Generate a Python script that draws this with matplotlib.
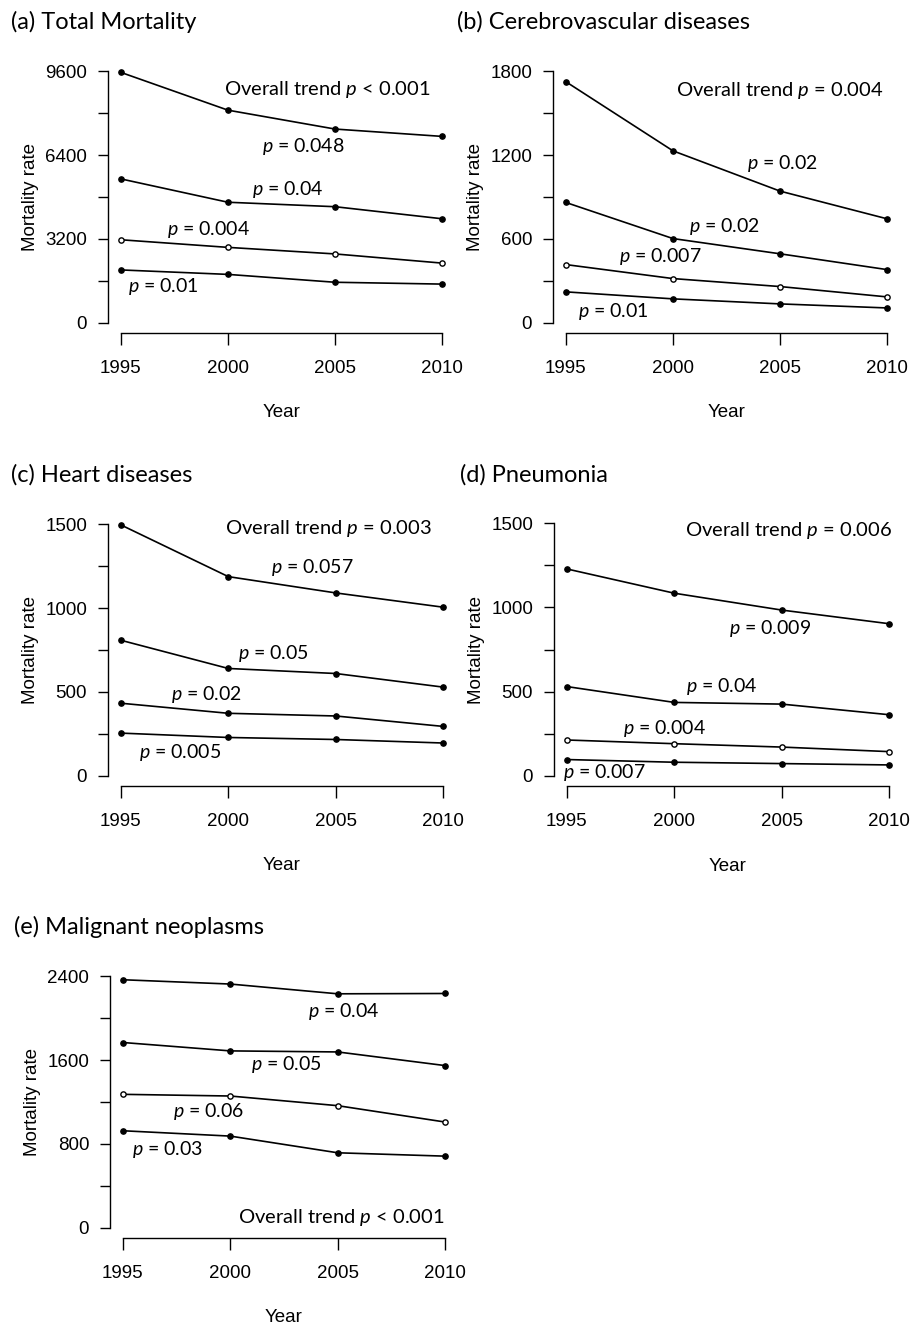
import matplotlib
matplotlib.use('Agg')
import matplotlib.pyplot as plt

plt.rcParams['font.family'] = ['Liberation Sans', 'DejaVu Sans']
plt.rcParams['mathtext.fontset'] = 'custom'
plt.rcParams['mathtext.it'] = 'Lato:italic'
plt.rcParams['mathtext.rm'] = 'Lato'

years = [1995, 2000, 2005, 2010]

# mortality rates, four series per panel (top to bottom)
total_mort = [[9550, 8110, 7390, 7110],
              [5490, 4600, 4430, 3970],
              [3170, 2880, 2630, 2280],
              [2020, 1850, 1550, 1480]]
cerebro = [[1724, 1230, 942, 744],
           [861, 603, 494, 381],
           [417, 317, 260, 186],
           [222, 172, 136, 107]]
heart = [[1495, 1187, 1090, 1005],
         [808, 640, 610, 529],
         [433, 373, 357, 295],
         [255, 229, 217, 196]]
pneumonia = [[1228, 1084, 984, 903],
             [530, 436, 426, 363],
             [213, 191, 171, 144],
             [97, 81, 73, 65]]
neoplasm = [[2365, 2324, 2231, 2234],
            [1767, 1687, 1677, 1547],
            [1273, 1257, 1165, 1009],
            [926, 875, 716, 684]]

titles = ['(a) Total Mortality', '(b) Cerebrovascular diseases',
          '(c) Heart diseases', '(d) Pneumonia', '(e) Malignant neoplasms']
ymax = [9600, 1800, 1500, 1500, 2400]
overall = ['< 0.001', '= 0.004', '= 0.003', '= 0.006', '< 0.001']
pvals = [['0.048', '0.04', '0.004', '0.01'],
         ['0.02', '0.02', '0.007', '0.01'],
         ['0.057', '0.05', '0.02', '0.005'],
         ['0.009', '0.04', '0.004', '0.007'],
         ['0.04', '0.05', '0.06', '0.03']]
# label anchor points (year, rate) for the p-values, then the overall trend
pval_pos = [[(2003.5, 6720), (2002.8, 5100), (1999.1, 3550), (1997.0, 1395), (2004.65, 8900)],
            [(2005.1, 1140), (2002.4, 687), (1999.4, 472), (1997.2, 79), (2005.0, 1664)],
            [(2003.9, 1241), (2002.1, 732), (1999.0, 487), (1997.75, 140), (2004.66, 1476)],
            [(2004.45, 873), (2002.2, 528), (1999.55, 282), (1996.76, 20), (2005.34, 1459)],
            [(2005.3, 2066), (2002.6, 1556), (1999.0, 1105), (1997.1, 745), (2005.18, 102)]]
hollow_third = [True, True, False, True, True]

datasets = [total_mort, cerebro, heart, pneumonia, neoplasm]

W, H = 922, 1328
fig = plt.figure(figsize=(W / 100, H / 100), dpi=100)

# axes boxes in pixels: left, top, right, bottom
boxes = [(108, 61, 455, 333), (553, 61, 900, 333),
         (108, 514, 456, 786), (554, 513, 902, 786),
         (110, 966, 458, 1238)]
title_pos = [(11, 22), (457, 22), (11, 475), (460, 475), (14, 927)]

for i in range(5):
    l, t, r, b = boxes[i]
    ax = fig.add_axes([l / W, 1 - b / H, (r - l) / W, (b - t) / H])
    ym = ymax[i]
    for k, series in enumerate(datasets[i]):
        face = 'white' if (k == 2 and hollow_third[i]) else 'black'
        ax.plot(years, series, color='black', lw=1.2, marker='o', ms=3.8,
                mfc=face, mec='black', mew=1.0)
    ax.set_xlim(1995 - 0.6, 2010 + 0.6)
    ax.set_ylim(-0.04 * ym, 1.04 * ym)
    for s in ['top', 'right']:
        ax.spines[s].set_visible(False)
    ax.spines['left'].set_bounds(0, ym)
    ax.spines['bottom'].set_bounds(1995, 2010)
    ax.spines['left'].set_linewidth(1.0)
    ax.spines['bottom'].set_linewidth(1.0)
    step = ym / 6
    ax.set_yticks([0, 2 * step, 4 * step, 6 * step])
    ax.set_yticklabels(['%d' % v for v in [0, 2 * step, 4 * step, 6 * step]])
    ax.set_yticks([step, 3 * step, 5 * step], minor=True)
    ax.set_xticks(years)
    ax.set_xticklabels([str(y) for y in years])
    ax.tick_params(axis='y', which='both', length=7, width=1.0, pad=8, labelsize=13.5)
    ax.tick_params(axis='x', length=8.5, width=1.0, pad=11, labelsize=13.5)
    ax.text(0.5, -0.294, 'Year', transform=ax.transAxes, ha='center', va='center', fontsize=13.5)
    ax.text(-0.222, 0.5, 'Mortality rate', transform=ax.transAxes, ha='center', va='center',
            rotation=90, fontsize=13.5)
    pos = pval_pos[i]
    for k in range(4):
        ax.text(pos[k][0], pos[k][1], r'$p$ = ' + pvals[i][k], ha='center', va='center',
                fontsize=14, family='Lato')
    ax.text(pos[4][0], pos[4][1], r'Overall trend $p$ ' + overall[i], ha='center', va='center',
            fontsize=14.5, family='Lato')
    fig.text(title_pos[i][0] / W, 1 - title_pos[i][1] / H, titles[i], ha='left', va='center',
             fontsize=17, family='Lato')

fig.savefig('out.png', dpi=100)
